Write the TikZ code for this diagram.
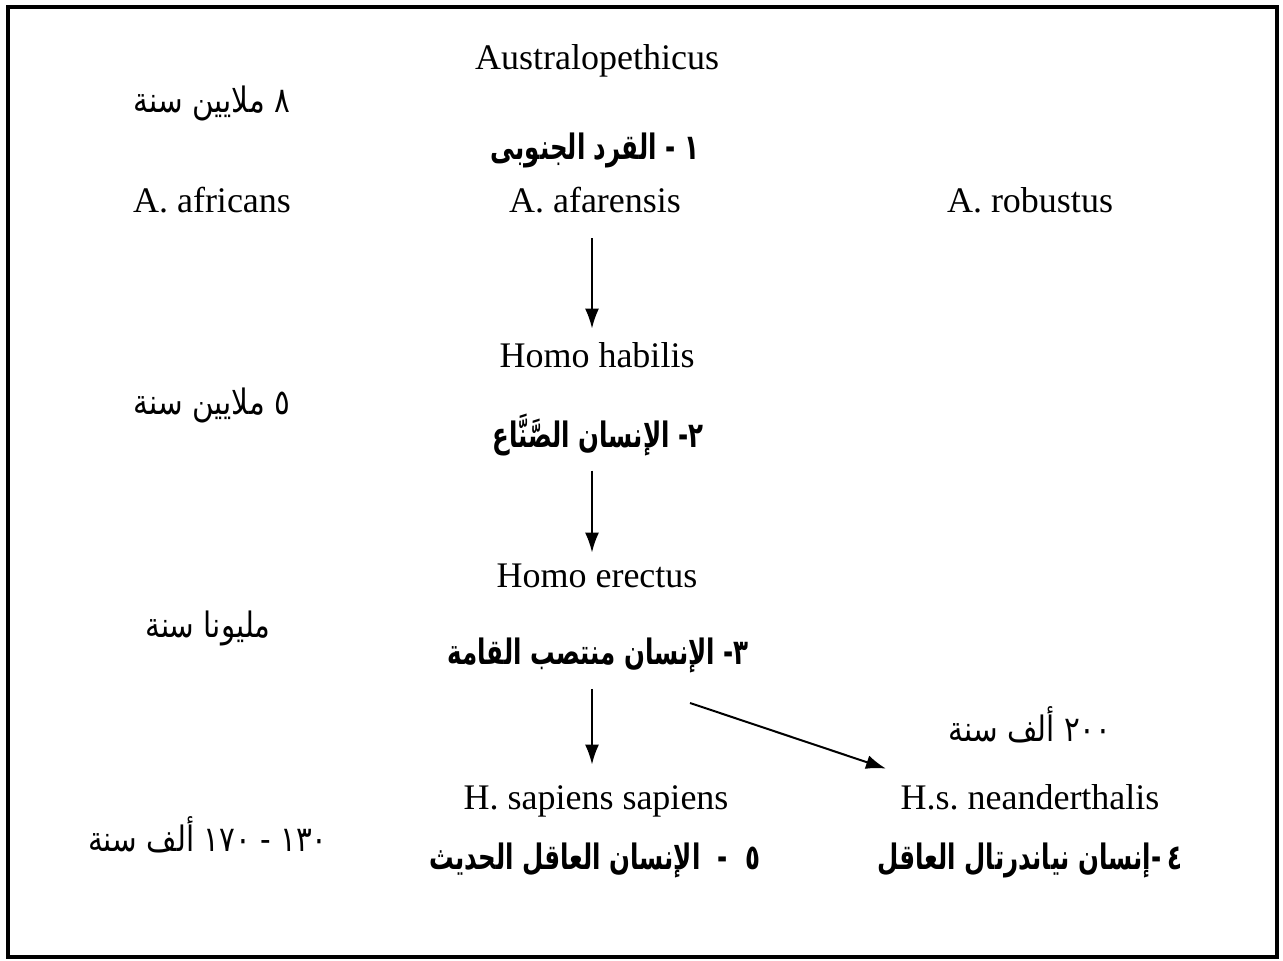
\documentclass[tikz,border=0pt]{standalone}
\usepackage{fontspec}
\setmainfont{Liberation Serif}
\newfontfamily\arabicfont[Script=Arabic,FakeStretch=0.84]{DejaVu Sans}
\newfontfamily\arabicnarrow[Script=Arabic,FakeStretch=0.7]{DejaVu Sans}
\TeXXeTstate=1
\usetikzlibrary{arrows.meta}

\begin{document}
\frenchspacing
\begin{tikzpicture}[x=0.5pt, y=-0.5pt,
    latin/.style={font=\fontsize{18}{20}\selectfont, inner sep=0pt, text height=14pt, text depth=2pt},
    age/.style={font=\arabicfont\fontsize{17.5}{20}\selectfont, inner sep=0pt},
    stage/.style={font=\arabicnarrow\bfseries\fontsize{17.5}{20}\selectfont, inner sep=0pt},
    evo/.style={-{Latex[length=10pt,width=7pt]}, line width=1pt}]
    \useasboundingbox (0,0) rectangle (1283,960);

    % Frame
    \draw[line width=2pt] (8,7) rectangle (1277,957);

    % Ages (left column)
    \node[age] (ageEight) at (212,103) {\beginR ٨ ملايين سنة\endR};
    \node[age] (ageFive) at (212,405) {\beginR ٥ ملايين سنة\endR};
    \node[age] (ageTwo) at (208,628) {\beginR مليونا سنة\endR};
    \node[age] (ageSapiens) at (208,835) {\beginR\hbox{١٣٠}\ \hbox{-}\ \hbox{١٧٠} ألف سنة\endR};
    \node[age] (ageNeander) at (1030,725) {\beginR ٢٠٠ ألف سنة\endR};

    % Stage 1
    \node[latin] (austral) at (597,57) {Australopethicus};
    \node[stage] (australAr) at (595,150) {\beginR\hbox{١}\ \hbox{-} القرد الجنوبى\endR};
    \node[latin] (africans) at (212,200) {A. africans};
    \node[latin] (afarensis) at (595,200) {A. afarensis};
    \node[latin] (robustus) at (1030,200) {A. robustus};

    % Stage 2
    \node[latin] (habilis) at (597,355) {Homo habilis};
    \node[stage] (habilisAr) at (598,435) {\beginR\hbox{٢}\hbox{-} الإنسان الصَّنَّاع\endR};

    % Stage 3
    \node[latin] (erectus) at (597,575) {Homo erectus};
    \node[stage] (erectusAr) at (598,655) {\beginR\hbox{٣}\hbox{-} الإنسان منتصب القامة\endR};

    % Stages 4 and 5
    \node[latin] (sapiens) at (596,797) {H. sapiens sapiens};
    \node[latin] (neander) at (1030,797) {H.s. neanderthalis};
    \node[stage] (sapiensAr) at (595,860) {\beginR\hbox{٥}\enspace\hbox{-}\enspace الإنسان العاقل الحديث\endR};
    \node[stage] (neanderAr) at (1030,860) {\beginR\hbox{٤}\,\hbox{-}إنسان نياندرتال العاقل\endR};

    % Descent arrows
    \draw[evo, shorten <=11pt, shorten >=5pt] ([xshift=-1.5pt]afarensis.south) -- ([xshift=-1.5pt]afarensis.south |- habilis.north);
    \draw[evo, shorten <=7pt, shorten >=3pt] ([xshift=-3pt]habilisAr.south) -- ([xshift=-3pt]habilisAr.south |- erectus.north);
    \draw[evo, shorten <=8pt, shorten >=8pt] ([xshift=-3pt]erectusAr.south) -- ([xshift=-3pt]erectusAr.south |- sapiens.north);
    \draw[evo] ([shift={(46pt,-15pt)}]erectusAr.south) -- ([shift={(-72pt,6pt)}]neander.north);
\end{tikzpicture}
\end{document}
